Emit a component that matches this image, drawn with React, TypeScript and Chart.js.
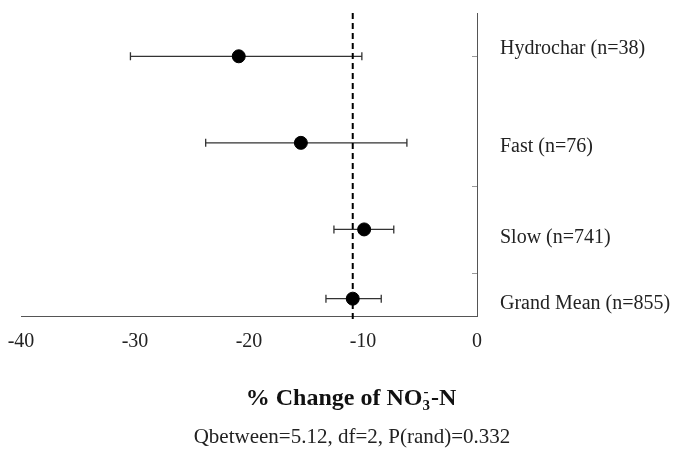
import React, { useEffect, useRef } from 'react';
import { Chart, registerables } from 'chart.js';

Chart.register(...registerables);

const categories = ['Hydrochar (n=38)', 'Fast (n=76)', 'Slow (n=741)', 'Grand Mean (n=855)'];
const means = [-20.9, -15.45, -9.9, -10.9];
const lowerCI = [-30.4, -23.8, -12.55, -13.25];
const upperCI = [-10.1, -6.15, -7.3, -8.4];
const rowPositions = [6, 4, 2, 0.4];
const labelPositions = [6.18, 3.91, 1.8, 0.28];
const xTicks = [-40, -30, -20, -10, 0];
const rightAxisTicks = [1, 3, 6];
const grandMean = -10.9;
const titleMain = '% Change of NO';
const titleSub = '3';
const titleSup = '-';
const titleEnd = '-N';
const statsText = 'Qbetween=5.12, df=2, P(rand)=0.332';

const SERIF = '"Liberation Serif", "Times New Roman", serif';

const extrasPlugin = {
  id: 'forestExtras',
  beforeDatasetsDraw(chart: any) {
    const { ctx, chartArea, scales } = chart;
    const x = scales.x;
    const y = scales.y;
    ctx.save();
    ctx.strokeStyle = '#333';
    ctx.lineWidth = 1.3;
    categories.forEach((_, i) => {
      const py = y.getPixelForValue(rowPositions[i]);
      const x1 = x.getPixelForValue(lowerCI[i]);
      const x2 = x.getPixelForValue(upperCI[i]);
      ctx.beginPath();
      ctx.moveTo(x1, py);
      ctx.lineTo(x2, py);
      ctx.moveTo(x1, py - 4);
      ctx.lineTo(x1, py + 4);
      ctx.moveTo(x2, py - 4);
      ctx.lineTo(x2, py + 4);
      ctx.stroke();
    });
    const gx = x.getPixelForValue(grandMean);
    ctx.setLineDash([6, 4]);
    ctx.lineWidth = 2;
    ctx.strokeStyle = '#000';
    ctx.beginPath();
    ctx.moveTo(gx, chartArea.top);
    ctx.lineTo(gx, chartArea.bottom + 6);
    ctx.stroke();
    ctx.setLineDash([]);
    ctx.restore();
  },
  afterDraw(chart: any) {
    const { ctx, chartArea, scales } = chart;
    const y = scales.y;
    ctx.save();
    // right axis small inward ticks
    ctx.strokeStyle = '#999';
    ctx.lineWidth = 1;
    rightAxisTicks.forEach((v) => {
      const py = Math.round(y.getPixelForValue(v)) + 0.5;
      ctx.beginPath();
      ctx.moveTo(chartArea.right - 5, py);
      ctx.lineTo(chartArea.right, py);
      ctx.stroke();
    });
    // category labels
    ctx.fillStyle = '#222';
    ctx.font = `20px ${SERIF}`;
    ctx.textAlign = 'left';
    ctx.textBaseline = 'middle';
    categories.forEach((c, i) => {
      ctx.fillText(c, chartArea.right + 23, y.getPixelForValue(labelPositions[i]));
    });
    // axis title with sub/superscript
    const cx = 351;
    const ty = chartArea.bottom + 89;
    const bigFont = `bold 24px ${SERIF}`;
    const smallFont = `bold 15px ${SERIF}`;
    ctx.font = bigFont;
    const w1 = ctx.measureText(titleMain).width;
    const w4 = ctx.measureText(titleEnd).width;
    ctx.font = smallFont;
    const w2 = ctx.measureText(titleSub).width;
    const w3 = ctx.measureText(titleSup).width;
    const total = w1 + Math.max(w2, w3) + w4 + 1;
    let px = cx - total / 2;
    ctx.textBaseline = 'alphabetic';
    ctx.textAlign = 'left';
    ctx.fillStyle = '#111';
    ctx.font = bigFont;
    ctx.fillText(titleMain, px, ty);
    px += w1;
    ctx.font = smallFont;
    ctx.fillText(titleSub, px, ty + 5);
    ctx.fillText(titleSup, px + 1, ty - 9);
    px += Math.max(w2, w3) + 1;
    ctx.font = bigFont;
    ctx.fillText(titleEnd, px, ty);
    // stats text
    ctx.font = `21px ${SERIF}`;
    ctx.textAlign = 'center';
    ctx.textBaseline = 'middle';
    ctx.fillStyle = '#222';
    ctx.fillText(statsText, 352, chartArea.bottom + 121);
    ctx.restore();
  },
};

export default function App() {
  const canvasRef = useRef<HTMLCanvasElement | null>(null);

  useEffect(() => {
    document.body.style.margin = '0';
    const canvas = canvasRef.current;
    if (!canvas) return;
    const chart = new Chart(canvas, {
      type: 'scatter',
      data: {
        datasets: [
          {
            label: 'Mean effect',
            data: means.map((m, i) => ({ x: m, y: rowPositions[i] })),
            pointRadius: 6.5,
            pointHoverRadius: 6.5,
            backgroundColor: '#000',
            borderColor: '#000',
            showLine: false,
          },
        ],
      },
      options: {
        responsive: false,
        animation: false,
        layout: { padding: { left: 21, right: 197, top: 13, bottom: 0 } },
        plugins: {
          legend: { display: false },
          tooltip: { enabled: false },
          title: { display: false },
        },
        scales: {
          x: {
            type: 'linear',
            min: -40,
            max: 0,
            afterBuildTicks: (scale: any) => {
              scale.ticks = xTicks.map((v) => ({ value: v }));
            },
            afterFit: (scale: any) => {
              scale.height = 144;
              scale.paddingLeft = 0;
              scale.paddingRight = 0;
            },
            ticks: {
              font: { family: SERIF, size: 20 },
              color: '#222',
              padding: 14,
              maxRotation: 0,
              autoSkip: false,
            },
            grid: { drawOnChartArea: false, drawTicks: false },
            border: { display: true, color: '#555', width: 1 },
          },
          y: {
            type: 'linear',
            position: 'right',
            min: 0,
            max: 7,
            ticks: { display: false },
            afterFit: (scale: any) => {
              scale.width = 0;
              scale.paddingTop = 0;
              scale.paddingBottom = 0;
            },
            grid: { drawOnChartArea: false, drawTicks: false },
            border: { display: true, color: '#555', width: 1 },
          },
        },
      },
      plugins: [extrasPlugin],
    });
    return () => chart.destroy();
  }, []);

  return (
    <div style={{ width: 674, height: 460, background: '#fff' }}>
      <canvas ref={canvasRef} width={674} height={460} />
    </div>
  );
}
